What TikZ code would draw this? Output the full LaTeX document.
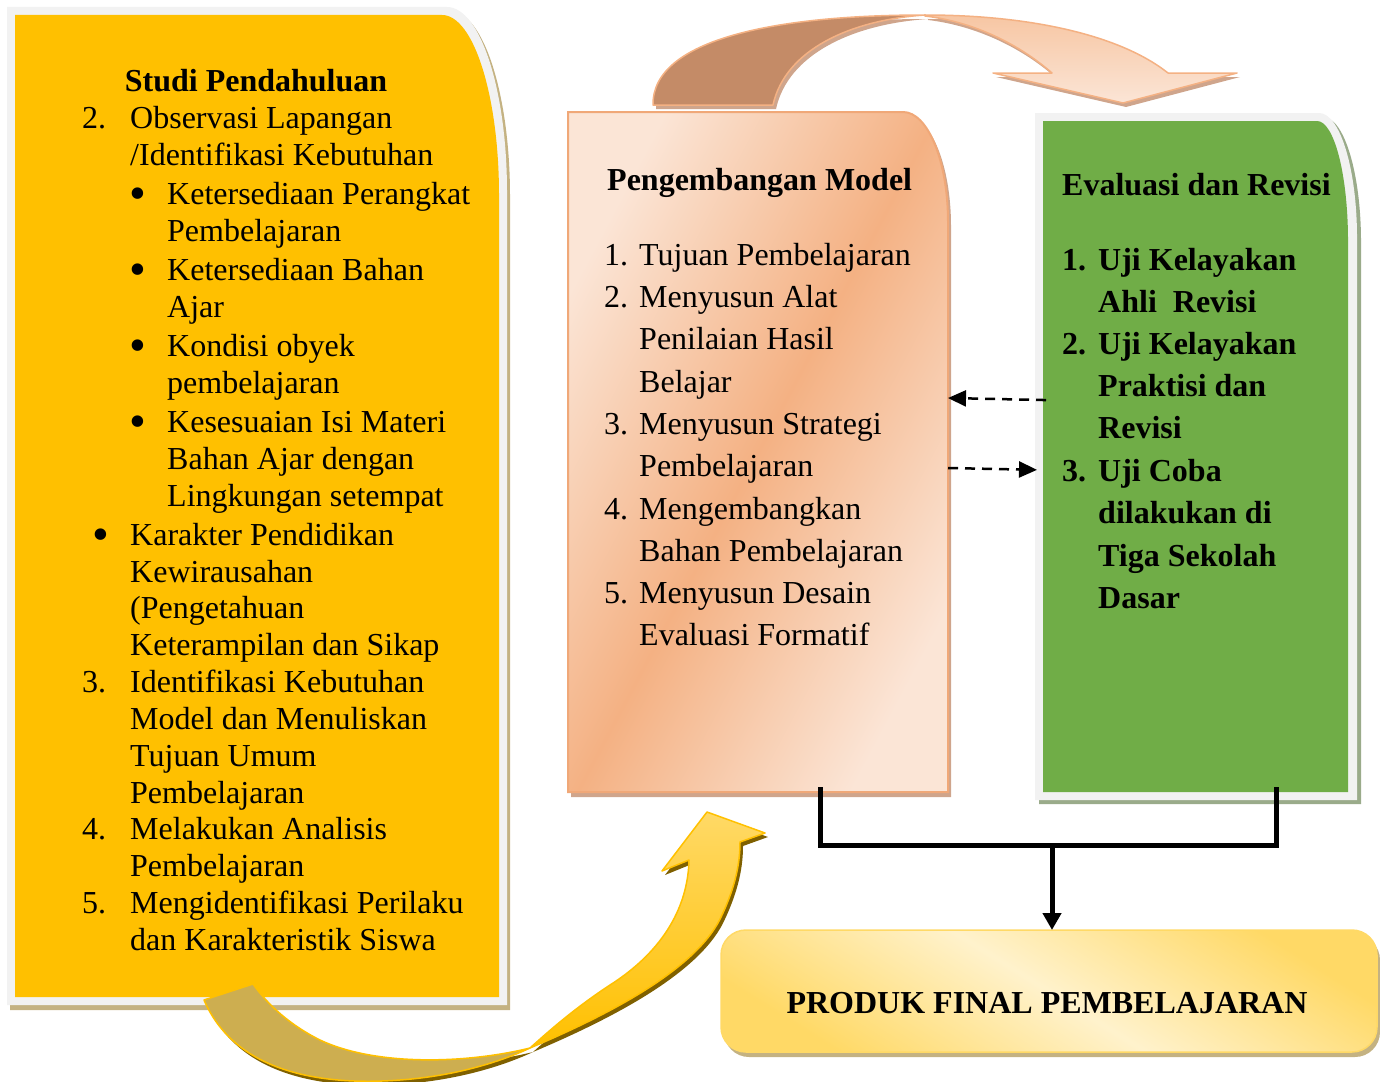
\documentclass[tikz,border=0pt]{standalone}
\usepackage{fontspec}
\setmainfont{Liberation Serif}
\usetikzlibrary{arrows.meta}

\definecolor{goldfill}{HTML}{FFC000}
\definecolor{framegray}{HTML}{F2F2F2}
\definecolor{tanshadow}{HTML}{C4B282}
\definecolor{peachdark}{HTML}{F4B183}
\definecolor{peachmid}{HTML}{F7C6A3}
\definecolor{peachlight}{HTML}{FBE5D6}
\definecolor{peachedge}{HTML}{F0A878}
\definecolor{peachshadow}{HTML}{CFA58C}
\definecolor{copperribbon}{HTML}{C48B67}
\definecolor{leafgreen}{HTML}{70AD47}
\definecolor{greenshadow}{HTML}{9AAB8A}
\definecolor{creamlight}{HTML}{FFF2CC}
\definecolor{creamgold}{HTML}{FFD966}
\definecolor{ribbonolive}{HTML}{CDAE50}
\definecolor{ribbonshadow}{HTML}{7F6000}

\tikzset{
  % box with one elliptical (top right) corner: left, top, right, bottom, rx, ry
  tab/.style n args={6}{insert path={(#1,#2) -- ({#3-#5},#2)
      .. controls ({#3-0.448*#5},#2) and (#3,{#2+0.448*#6}) .. (#3,{#2+#6})
      -- (#3,#4) -- (#1,#4) -- cycle}},
  area/.style={inner sep=0pt, outer sep=0pt, draw=none},
  txt/.style={anchor=base west, inner sep=0pt, font=\fontsize{32}{37}\selectfont},
  btxt/.style={txt, font=\fontsize{32}{37}\selectfont\bfseries},
  bul/.style={anchor=base west, inner sep=0pt, font=\fontsize{48}{48}\selectfont},
  dasharrow/.style={line width=2.5pt, dash pattern=on 10pt off 7pt,
      -{Triangle[length=18pt,width=16pt]}},
  bracket/.style={line width=5pt, line join=miter},
  ribbonedge/.style={line width=1.5pt, line join=round},
}

\begin{document}
\begin{tikzpicture}[x=1pt, y=-1pt]
\useasboundingbox (0,0) rectangle (1380,1081);

% ---------- Studi Pendahuluan panel ----------
\fill[tanshadow] [tab={10}{11}{510}{1010}{60}{185}];
\fill[framegray] [tab={7}{7}{507}{1005}{60}{185}];
\fill[goldfill] [tab={15}{15}{499}{997}{57}{180}];
\node[area, minimum width=484pt, minimum height=982pt] (study) at (257,506) {};

% ---------- Pengembangan Model panel ----------
\fill[peachshadow] [tab={571}{116}{951}{797}{45}{110}];
\path[top color=peachlight, bottom color=peachlight, middle color=peachdark,
      shading angle=62, draw=peachedge, line width=2pt]
      [tab={568}{112}{948}{792}{45}{110}];
\node[area, minimum width=380pt, minimum height=680pt] (devbox) at (758,452) {};

% ---------- Evaluasi dan Revisi panel ----------
\fill[greenshadow] [tab={1039}{117}{1361}{804}{38}{125}];
\fill[framegray] [tab={1035}{113}{1357}{800}{38}{125}];
\fill[leafgreen] [tab={1043}{121}{1348}{792}{31}{120}];
\node[area, minimum width=305pt, minimum height=671pt] (evalbox) at (1195.5,456.5) {};

% ---------- final product box ----------
\fill[tanshadow, rounded corners=25pt] (724,935) rectangle (1380,1057);
\node[area, minimum width=656pt, minimum height=122pt, rounded corners=25pt,
      top color=creamgold, bottom color=creamgold, middle color=creamlight,
      shading angle=-32, draw=creamgold, line width=1.5pt] (final) at (1049,991) {};
\node[btxt, anchor=base] (finaltext) at (1047,1013) {PRODUK FINAL PEMBELAJARAN};

% ---------- curved arrow over the top ----------
\begin{scope}[shift={(3,4)}]
  \fill[peachshadow] (653,105) .. controls (652,38) and (780,15) .. (925,15)
      .. controls (850,20) and (785,50) .. (773,105) -- cycle;
  \fill[peachshadow] (925,15) .. controls (1030,15) and (1120,35) .. (1168,73)
      -- (1237,73) -- (1123,103) -- (993,73) -- (1052,73)
      .. controls (1020,45) and (975,22) .. (925,16) -- cycle;
\end{scope}
\filldraw[fill=copperribbon, draw=peachdark, ribbonedge]
  (653,105) .. controls (652,38) and (780,15) .. (925,15)
  .. controls (850,20) and (785,50) .. (773,105) -- cycle;
\path[top color=peachmid, bottom color=peachlight, draw=peachdark, ribbonedge]
  (925,15) .. controls (1030,15) and (1120,35) .. (1168,73)
  -- (1237,73) -- (1123,103) -- (993,73) -- (1052,73)
  .. controls (1020,45) and (975,22) .. (925,16) -- cycle;

% ---------- curved arrow along the bottom ----------
\begin{scope}[shift={(3,4)}]
  \fill[ribbonshadow] (204,1000) .. controls (235,1072) and (320,1086) .. (400,1080)
      .. controls (455,1076) and (500,1062) .. (530,1048)
      .. controls (465,1064) and (375,1066) .. (320,1040)
      .. controls (290,1025) and (268,1005) .. (253,984) -- cycle;
  \fill[ribbonshadow] (530,1048) .. controls (620,1010) and (700,965) .. (722,915)
      .. controls (736,885) and (740,862) .. (740,842)
      -- (765,833) -- (707,812) -- (662,871) -- (689,860)
      .. controls (688,905) and (665,950) .. (610,985)
      .. controls (575,1008) and (550,1030) .. (530,1048) -- cycle;
\end{scope}
\filldraw[fill=ribbonolive, draw=goldfill, ribbonedge]
  (204,1000) .. controls (235,1072) and (320,1086) .. (400,1080)
  .. controls (455,1076) and (500,1062) .. (530,1048)
  .. controls (465,1064) and (375,1066) .. (320,1040)
  .. controls (290,1025) and (268,1005) .. (253,984) -- cycle;
\path[top color=creamgold, bottom color=goldfill, draw=goldfill, ribbonedge]
  (530,1048) .. controls (620,1010) and (700,965) .. (722,915)
  .. controls (736,885) and (740,862) .. (740,842)
  -- (765,833) -- (707,812) -- (662,871) -- (689,860)
  .. controls (688,905) and (665,950) .. (610,985)
  .. controls (575,1008) and (550,1030) .. (530,1048) -- cycle;

% ---------- texts: Studi Pendahuluan ----------
\node[btxt, anchor=base] (studytitle) at (256,91) {Studi Pendahuluan};
\foreach \yy/\xx in {209.5/129.5, 285.5/129.5, 361.5/129.5, 437.5/129.5, 550.5/92.5}
  \node[bul] (bullet\yy) at (\xx,\yy) {\textbullet};
\foreach \yy/\xx/\tt [count=\i] in {
  128.5/82/{2.}, 128.5/130/{Observasi Lapangan},
  165.5/130/{/Identifikasi Kebutuhan},
  204.5/167/{Ketersediaan Perangkat},
  241.5/167/{Pembelajaran},
  280.5/167/{Ketersediaan Bahan},
  317.5/167/{Ajar},
  356.5/167/{Kondisi obyek},
  393.5/167/{pembelajaran},
  432.5/167/{Kesesuaian Isi Materi},
  469.5/167/{Bahan Ajar dengan},
  506.5/167/{Lingkungan setempat},
  545.5/130/{Karakter Pendidikan},
  582.5/130/{Kewirausahan},
  618.5/130/{(Pengetahuan},
  655.5/130/{Keterampilan dan Sikap},
  692.5/82/{3.}, 692.5/130/{Identifikasi Kebutuhan},
  729.5/130/{Model dan Menuliskan},
  766.5/130/{Tujuan Umum},
  803.5/130/{Pembelajaran},
  839.5/82/{4.}, 839.5/130/{Melakukan Analisis},
  876.5/130/{Pembelajaran},
  913.5/82/{5.}, 913.5/130/{Mengidentifikasi Perilaku},
  950.5/130/{dan Karakteristik Siswa}}
  \node[txt] (studyline\i) at (\xx,\yy) {\tt};

% ---------- texts: Pengembangan Model ----------
\node[btxt] (devtitle) at (607,190) {Pengembangan Model};
\foreach \yy/\xx/\tt [count=\i] in {
  265/604/{1.}, 265/639/{Tujuan Pembelajaran},
  307/604/{2.}, 307/639/{Menyusun Alat},
  349/639/{Penilaian Hasil},
  392/639/{Belajar},
  434/604/{3.}, 434/639/{Menyusun Strategi},
  476/639/{Pembelajaran},
  519/604/{4.}, 519/639/{Mengembangkan},
  561/639/{Bahan Pembelajaran},
  603/604/{5.}, 603/639/{Menyusun Desain},
  645/639/{Evaluasi Formatif}}
  \node[txt] (devline\i) at (\xx,\yy) {\tt};

% ---------- texts: Evaluasi dan Revisi ----------
\node[btxt] (evaltitle) at (1062,195) {Evaluasi dan Revisi};
\foreach \yy/\xx/\tt [count=\i] in {
  270/1062/{1.}, 270/1098/{Uji Kelayakan},
  312/1098/{Ahli\ \ Revisi},
  354/1062/{2.}, 354/1098/{Uji Kelayakan},
  396/1098/{Praktisi dan},
  438/1098/{Revisi},
  481/1062/{3.}, 481/1098/{Uji Coba},
  523/1098/{dilakukan di},
  566/1098/{Tiga Sekolah},
  608/1098/{Dasar}}
  \node[btxt] (evalline\i) at (\xx,\yy) {\tt};

% ---------- connectors ----------
\draw[dasharrow, shorten <=-3pt] (evalbox.west |- 0,400) -- (devbox.east |- 0,398);
\draw[dasharrow, shorten >=6pt] (devbox.east |- 0,468) -- (evalbox.west |- 0,470);

\coordinate (joint) at (1052,845);
\draw[bracket, shorten <=-5pt, shorten >=-5pt]
  (devbox.south -| 820,0) |- (joint) -| (evalbox.south -| 1276,0);
\draw[bracket, -{Triangle[length=17pt,width=18pt]}] (joint) -- (joint |- final.north);

\end{tikzpicture}
\end{document}
